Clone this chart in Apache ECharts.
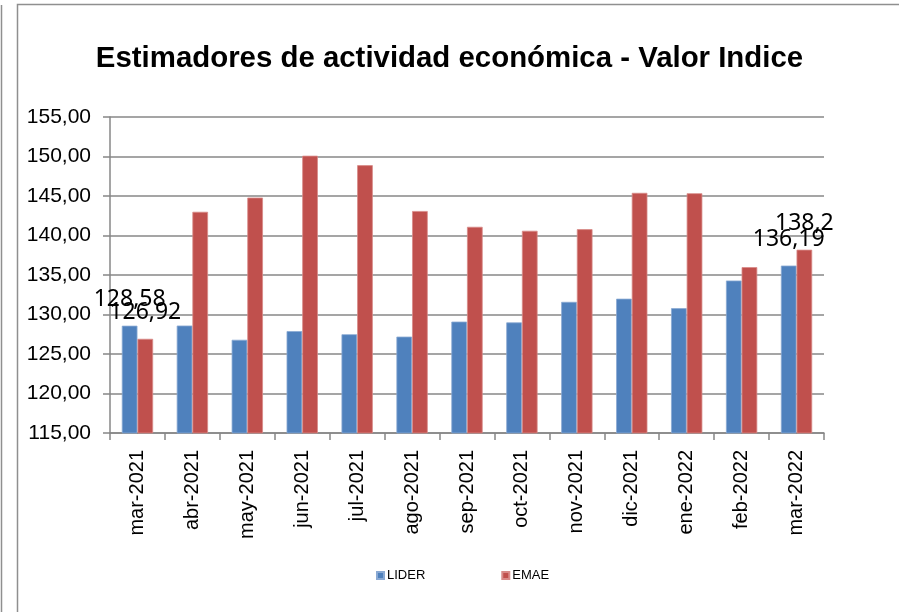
<!DOCTYPE html>
<html>
<head>
<meta charset="utf-8">
<script src="https://cdn.jsdelivr.net/npm/echarts@6/dist/echarts.min.js"></script>
<style>html,body{margin:0;padding:0;background:#fff}#c{width:899px;height:612px}</style>
</head>
<body>
<div id="c"></div>
<script>
var titleText = 'Estimadores de actividad económica - Valor Indice';
var categories = ['mar-2021','abr-2021','may-2021','jun-2021','jul-2021','ago-2021','sep-2021','oct-2021','nov-2021','dic-2021','ene-2022','feb-2022','mar-2022'];
var seriesNames = ['LIDER', 'EMAE'];
var lider = [128.58, 128.6, 126.8, 127.9, 127.5, 127.2, 129.1, 129.0, 131.6, 132.0, 130.8, 134.3, 136.19];
var emae = [126.92, 143.0, 144.8, 150.1, 148.9, 143.1, 141.1, 140.6, 140.8, 145.4, 145.35, 136.0, 138.2];
var labeledIdx = [0, 12];
var yMin = 115, yMax = 155, yStep = 5;

var gray = '#878787';
function withLabels(arr) {
  return arr.map(function (v, i) {
    return labeledIdx.indexOf(i) >= 0 ? { value: v, label: { show: true } } : v;
  });
}
var dataLabel = {
  show: false, position: 'top', distance: 15,
  fontFamily: 'Noto Sans', fontSize: 23, color: '#000',
  formatter: function (p) { return String(p.value).replace('.', ','); }
};
var chart = echarts.init(document.getElementById('c'));
chart.setOption({
  animation: false,
  backgroundColor: '#fff',
  title: {
    text: titleText, left: 'center', top: 39,
    textStyle: { fontFamily: 'Liberation Sans', fontWeight: 'bold', fontSize: 29.4, color: '#000' }
  },
  graphic: [
    { type: 'line', shape: { x1: 1.5, y1: 5, x2: 1.5, y2: 612 }, style: { stroke: '#8f8f8f', lineWidth: 1.5 } },
    { type: 'rect', shape: { x: 17.5, y: 4.5, width: 1000, height: 1000 }, style: { fill: 'none', stroke: '#8f8f8f', lineWidth: 1.5 } }
  ],
  legend: {
    data: seriesNames, left: 376, top: 569, padding: 0, itemWidth: 7, itemHeight: 7, itemGap: 76, icon: 'rect',
    textStyle: { fontFamily: 'Liberation Sans', fontSize: 13, color: '#000', padding: [0, 0, 0, -2] }
  },
  grid: { left: 110, right: 75, top: 117, height: 316, containLabel: false },
  xAxis: {
    type: 'category', data: categories,
    axisLine: { lineStyle: { color: gray, width: 1.5 } },
    axisTick: { show: true, length: 7, lineStyle: { color: gray, width: 1.5 } },
    axisLabel: { rotate: 90, margin: 17, fontFamily: 'Liberation Sans', fontSize: 20, color: '#000' }
  },
  yAxis: {
    type: 'value', min: yMin, max: yMax, interval: yStep,
    axisLine: { show: true, lineStyle: { color: gray, width: 1.5 } },
    axisTick: { show: true, length: 7, lineStyle: { color: gray, width: 1.5 } },
    splitLine: { show: true, lineStyle: { color: gray, width: 1.5 } },
    axisLabel: { margin: 19, fontFamily: 'Liberation Sans', fontSize: 21, color: '#000',
      formatter: function (v) { return v.toFixed(2).replace('.', ','); } }
  },
  series: [
    { name: seriesNames[0], type: 'bar', data: withLabels(lider), barGap: '0%', barCategoryGap: '43%',
      itemStyle: { color: '#4F81BD', borderColor: '#8aa9d3', borderWidth: 0.8 }, label: dataLabel },
    { name: seriesNames[1], type: 'bar', data: withLabels(emae), barGap: '0%', barCategoryGap: '43%',
      itemStyle: { color: '#C0504D', borderColor: '#d88a88', borderWidth: 0.8 }, label: dataLabel }
  ]
});
</script>
</body>
</html>
